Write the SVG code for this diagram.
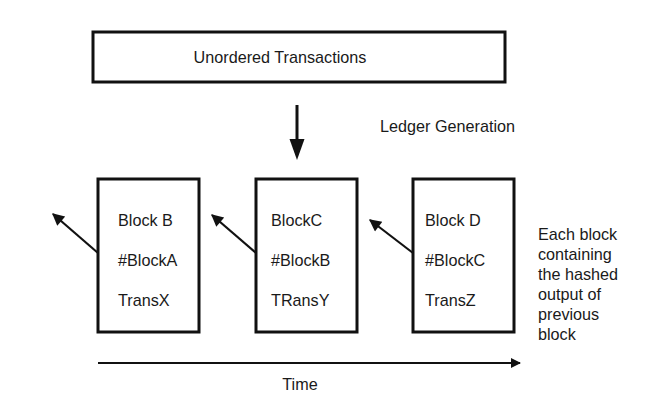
<svg xmlns="http://www.w3.org/2000/svg" width="650" height="418" viewBox="0 0 650 418">
<style>
text{font-family:"Liberation Sans",Arial,sans-serif;font-size:16.2px;fill:#1a1a1a}
.box{fill:#fff;stroke:#111;stroke-width:3}
.ln{stroke:#111;fill:none}
</style>
<defs>
<marker id="ah" viewBox="0 0 10 10" refX="9" refY="5" markerWidth="6.5" markerHeight="5.5" orient="auto" markerUnits="strokeWidth"><path d="M0,0 L10,5 L0,10 z" fill="#111"/></marker>
<marker id="th" viewBox="0 0 10 10" refX="9" refY="5" markerWidth="7.5" markerHeight="5" orient="auto" markerUnits="strokeWidth"><path d="M0,0 L10,5 L0,10 z" fill="#111"/></marker>
</defs>
<rect width="650" height="418" fill="#fff"/>
<g id="unordered">
<rect class="box" x="93" y="32" width="412" height="50"/>
<text x="280" y="63" text-anchor="middle">Unordered Transactions</text>
</g>
<g id="ledger-label"><text x="380" y="132">Ledger Generation</text></g>
<g id="blockB">
<rect class="box" x="98" y="179" width="101" height="153"/>
<text x="118" y="226">Block B</text>
<text x="118" y="266">#BlockA</text>
<text x="118" y="306">TransX</text>
</g>
<g id="blockC">
<rect class="box" x="256" y="179" width="101" height="153"/>
<text x="271" y="226">BlockC</text>
<text x="271" y="266">#BlockB</text>
<text x="271" y="306">TRansY</text>
</g>
<g id="blockD">
<rect class="box" x="413" y="179" width="101" height="153"/>
<text x="425" y="226">Block D</text>
<text x="425" y="266">#BlockC</text>
<text x="425" y="306">TransZ</text>
</g>
<g id="note">
<text x="538" y="240">Each block</text>
<text x="538" y="260">containing</text>
<text x="538" y="280">the hashed</text>
<text x="538" y="300">output of</text>
<text x="538" y="320">previous</text>
<text x="538" y="340">block</text>
</g>
<g id="time-label"><text x="300" y="390" text-anchor="middle">Time</text></g>
<g id="connectors">
<line class="ln" x1="297" y1="105" x2="297" y2="140" stroke-width="3"/>
<path d="M289.5,139 L304.5,139 L297,160 z" fill="#111"/>
<line class="ln" x1="98" y1="253" x2="53" y2="214" stroke-width="2.2" marker-end="url(#ah)"/>
<line class="ln" x1="256" y1="253" x2="212" y2="215" stroke-width="2.2" marker-end="url(#ah)"/>
<line class="ln" x1="413" y1="253" x2="370" y2="220" stroke-width="2.2" marker-end="url(#ah)"/>
<line class="ln" x1="98" y1="363" x2="520" y2="363" stroke-width="2" marker-end="url(#th)"/>
</g>
</svg>
